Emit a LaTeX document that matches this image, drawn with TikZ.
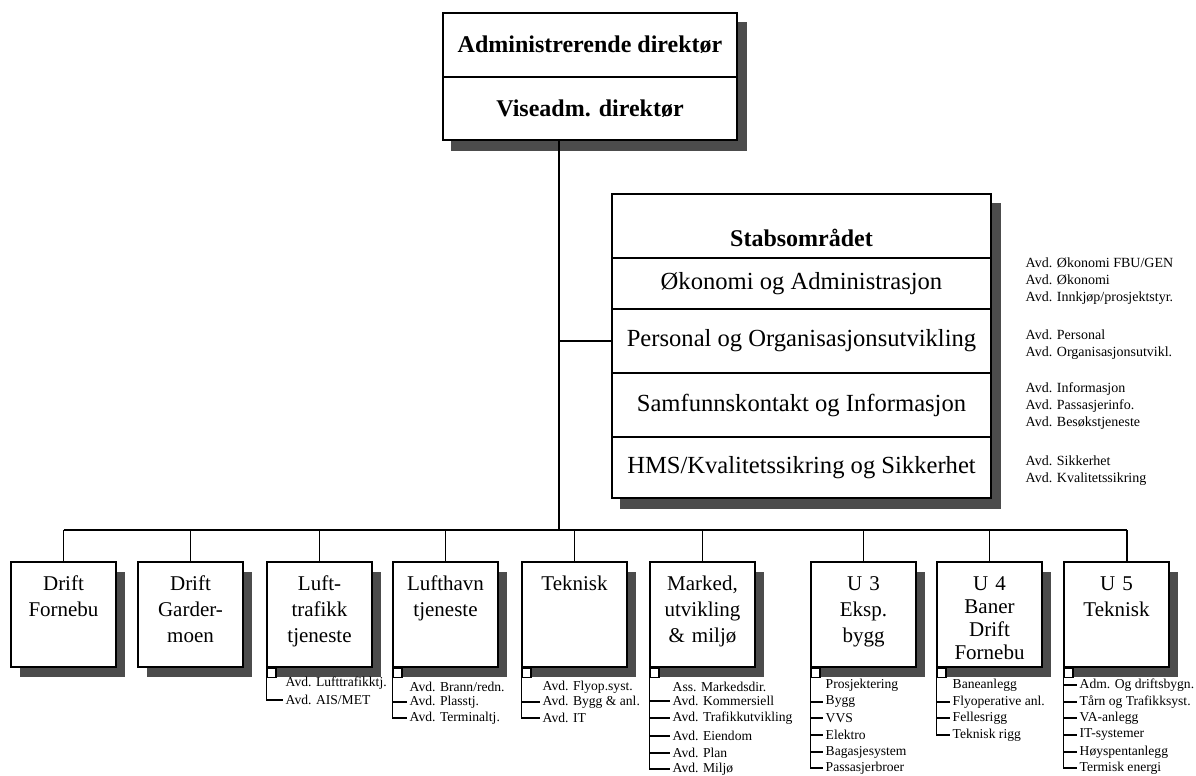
\documentclass[tikz,border=0pt]{standalone}
\usepackage{fontspec}
\setmainfont{Liberation Serif}
\usetikzlibrary{shadows, backgrounds}

\begin{document}
\begin{tikzpicture}[x=0.5pt, y=-0.5pt,
                    line width=0.7pt,
                    shade/.style={fill=black!70},
                    topbox/.style={draw, fill=white, minimum width=147pt, inner sep=0pt,
                                   font=\fontsize{12}{14}\selectfont\bfseries},
                    stabpart/.style={draw, fill=white, minimum width=189.5pt, inner sep=0pt,
                                     font=\fontsize{12.3}{14}\selectfont},
                    note/.style={anchor=west, align=left, inner sep=0pt,
                                 font=\fontsize{7}{8.5}\selectfont},
                    unit/.style={draw, fill=white, inner sep=0pt, text width=52.5pt, align=center,
                                 text height=14pt, text depth=38.5pt,
                                 font=\fontsize{10.5}{13}\selectfont,
                                 drop shadow={shadow xshift=4.5pt, shadow yshift=-5pt,
                                              fill=black!70, opacity=1}},
                    sq/.style={draw, fill=white, minimum size=4.5pt, inner sep=0pt, anchor=north west},
                    item/.style={anchor=west, inner sep=1pt, font=\fontsize{6.8}{8}\selectfont}
                    ]
    \useasboundingbox (0,0) rectangle (1196,776);

    \node[topbox, minimum height=32pt]   (adm)  at (590,45)    {Administrerende direktør};
    \node[topbox, minimum height=31.5pt] (vise) at (590,108.5) {Viseadm. direktør};

    \node[stabpart, minimum height=32pt, text height=20pt, text depth=0pt,
          font=\fontsize{12}{14}\selectfont\bfseries] (stab) at (801.5,226) {Stabsområdet};
    \node[stabpart, minimum height=25.5pt] (okon) at (801.5,283.5) {Økonomi og Administrasjon};
    \node[stabpart, minimum height=32pt]   (pers) at (801.5,341)   {Personal og Organisasjonsutvikling};
    \node[stabpart, minimum height=32pt]   (samf) at (801.5,405)   {Samfunnskontakt og Informasjon};
    \node[stabpart, minimum height=30.5pt] (hms)  at (801.5,467.5) {HMS/Kvalitetssikring og Sikkerhet};

    \begin{scope}[on background layer]
        \fill[shade] ([xshift=4.5pt,yshift=-5pt]adm.north west) rectangle ([xshift=4.5pt,yshift=-5pt]vise.south east);
        \fill[shade] ([xshift=4.5pt,yshift=-5pt]stab.north west) rectangle ([xshift=4.5pt,yshift=-5pt]hms.south east);
    \end{scope}

    \node[note] (okonavd) at (1025,281)   {Avd. Økonomi FBU/GEN\\Avd. Økonomi\\Avd. Innkjøp/prosjektstyr.};
    \node[note] (persavd) at (1025,344.5) {Avd. Personal\\Avd. Organisasjonsutvikl.};
    \node[note] (samfavd) at (1025,406)   {Avd. Informasjon\\Avd. Passasjerinfo.\\Avd. Besøkstjeneste};
    \node[note] (hmsavd)  at (1025,471)   {Avd. Sikkerhet\\Avd. Kvalitetssikring};

    \node[unit] (fornebu)    at (63.5,614.5)   {Drift\\Fornebu};
    \node[unit] (gardermoen) at (190.5,614.5)  {Drift\\Garder-\\moen};
    \node[unit] (lufttraf)   at (319.5,614.5)  {Luft-\\trafikk\\tjeneste};
    \node[unit] (lufthavn)   at (445.5,614.5)  {Lufthavn\\tjeneste};
    \node[unit] (teknisk)    at (574.5,614.5)  {Teknisk};
    \node[unit] (marked)     at (702.5,614.5)  {Marked,\\utvikling\\\& miljø};
    \node[unit] (ueksp)      at (863.5,614.5)  {U 3\\Eksp.\\bygg};
    \node[unit, font=\fontsize{10.5}{11.5}\selectfont] (ubane) at (989.5,614.5) {U 4\\Baner\\Drift\\Fornebu};
    \node[unit] (uteknisk)   at (1116.5,614.5) {U 5\\Teknisk};

    \coordinate (trunk) at (559,530);
    \coordinate (u5drop) at (1127,530);

    \draw (vise.south -| trunk) -- (trunk);
    \draw (pers.west -| trunk) -- (pers.west);
    \draw (fornebu.north |- trunk) -- (u5drop);
    \draw (fornebu.north)    -- (fornebu.north |- trunk);
    \draw (gardermoen.north) -- (gardermoen.north |- trunk);
    \draw (lufttraf.north)   -- (lufttraf.north |- trunk);
    \draw (lufthavn.north)   -- (lufthavn.north |- trunk);
    \draw (teknisk.north)    -- (teknisk.north |- trunk);
    \draw (marked.north)     -- (marked.north |- trunk);
    \draw (ueksp.north)      -- (ueksp.north |- trunk);
    \draw (ubane.north)      -- (ubane.north |- trunk);
    \draw (u5drop) -- (u5drop |- uteknisk.north);

    \node[sq] (lufttrafsq) at (lufttraf.south west) {};
    \node[item] (lt1) at (283,683) {Avd. Lufttrafikktj.};
    \node[item] (lt2) at (283,700) {Avd. AIS/MET};
    \draw (lufttrafsq.south west) |- (lt2.west);

    \node[sq] (lufthavnsq) at (lufthavn.south west) {};
    \node[item] (lh1) at (407,687) {Avd. Brann/redn.};
    \node[item] (lh2) at (407,702) {Avd. Plasstj.};
    \node[item] (lh3) at (407,718) {Avd. Terminaltj.};
    \draw (lufthavnsq.south west) |- (lh3.west);
    \draw (lh2.west -| lufthavnsq.west) -- (lh2.west);

    \node[sq] (teknisksq) at (teknisk.south west) {};
    \node[item] (tk1) at (540,687) {Avd. Flyop.syst.};
    \node[item] (tk2) at (540,702) {Avd. Bygg \& anl.};
    \node[item] (tk3) at (540,718) {Avd. IT};
    \draw (teknisksq.south west) |- (tk3.west);
    \draw (tk2.west -| teknisksq.west) -- (tk2.west);

    \node[sq] (markedsq) at (marked.south west) {};
    \node[item] (mk1) at (670,687) {Ass. Markedsdir.};
    \node[item] (mk2) at (670,701) {Avd. Kommersiell};
    \node[item] (mk3) at (670,718) {Avd. Trafikkutvikling};
    \node[item] (mk4) at (670,736) {Avd. Eiendom};
    \node[item] (mk5) at (670,753) {Avd. Plan};
    \node[item] (mk6) at (670,769) {Avd. Miljø};
    \draw (markedsq.south west) |- (mk6.west);
    \draw (mk2.west -| markedsq.west) -- (mk2.west);
    \draw (mk3.west -| markedsq.west) -- (mk3.west);
    \draw (mk4.west -| markedsq.west) -- (mk4.west);
    \draw (mk5.west -| markedsq.west) -- (mk5.west);

    \node[sq] (uekspsq) at (ueksp.south west) {};
    \node[item] (ue1) at (823,685) {Prosjektering};
    \node[item] (ue2) at (823,702) {Bygg};
    \node[item] (ue3) at (823,718) {VVS};
    \node[item] (ue4) at (823,735) {Elektro};
    \node[item] (ue5) at (823,752) {Bagasjesystem};
    \node[item] (ue6) at (823,768) {Passasjerbroer};
    \draw (uekspsq.south west) |- (ue6.west);
    \draw (ue2.west -| uekspsq.west) -- (ue2.west);
    \draw (ue3.west -| uekspsq.west) -- (ue3.west);
    \draw (ue4.west -| uekspsq.west) -- (ue4.west);
    \draw (ue5.west -| uekspsq.west) -- (ue5.west);

    \node[sq] (ubanesq) at (ubane.south west) {};
    \node[item] (ub1) at (950,685) {Baneanlegg};
    \node[item] (ub2) at (950,702) {Flyoperative anl.};
    \node[item] (ub3) at (950,718) {Fellesrigg};
    \node[item] (ub4) at (950,735) {Teknisk rigg};
    \draw (ubanesq.south west) |- (ub4.west);
    \draw (ub2.west -| ubanesq.west) -- (ub2.west);
    \draw (ub3.west -| ubanesq.west) -- (ub3.west);

    \node[sq] (uteknisksq) at (uteknisk.south west) {};
    \node[item] (ut1) at (1077,685) {Adm. Og driftsbygn.};
    \node[item] (ut2) at (1077,702) {Tårn og Trafikksyst.};
    \node[item] (ut3) at (1077,718) {VA-anlegg};
    \node[item] (ut4) at (1077,735) {IT-systemer};
    \node[item] (ut5) at (1077,752) {Høyspentanlegg};
    \node[item] (ut6) at (1077,768) {Termisk energi};
    \draw (uteknisksq.south west) |- (ut6.west);
    \draw (ut1.west -| uteknisksq.west) -- (ut1.west);
    \draw (ut2.west -| uteknisksq.west) -- (ut2.west);
    \draw (ut3.west -| uteknisksq.west) -- (ut3.west);
    \draw (ut4.west -| uteknisksq.west) -- (ut4.west);
    \draw (ut5.west -| uteknisksq.west) -- (ut5.west);
\end{tikzpicture}
\end{document}
